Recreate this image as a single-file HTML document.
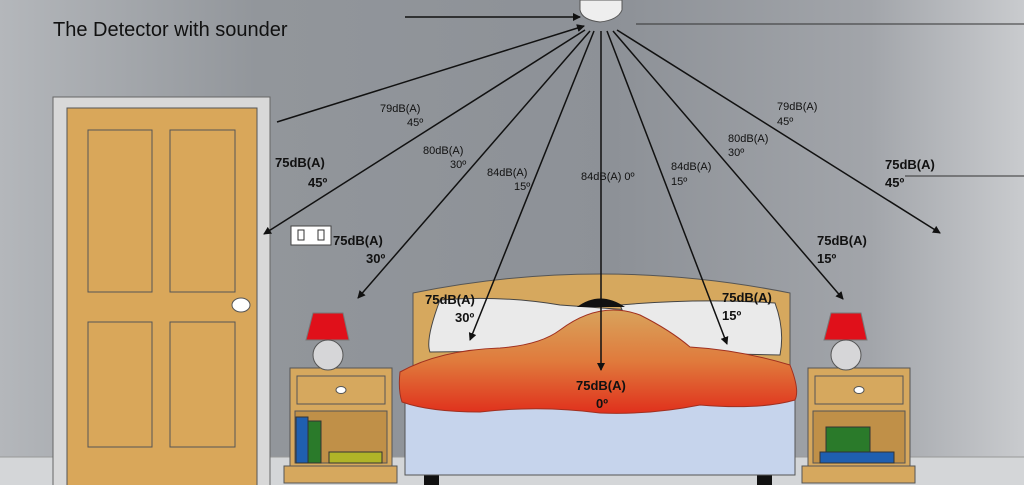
<!DOCTYPE html>
<html><head><meta charset="utf-8"><style>
body{margin:0;width:1024px;height:485px;overflow:hidden}
svg text{font-family:"Liberation Sans",sans-serif;fill:#111}
.b{font-weight:bold;font-size:13px}
.s{font-size:11px}
</style></head><body>
<svg width="1024" height="485" viewBox="0 0 1024 485">
<defs>
<linearGradient id="wall" x1="0" x2="1" y1="0" y2="0">
<stop offset="0" stop-color="#b4b7bb"/><stop offset="0.25" stop-color="#92969b"/>
<stop offset="0.6" stop-color="#8d9197"/><stop offset="0.85" stop-color="#a2a5aa"/>
<stop offset="1" stop-color="#c9cbce"/></linearGradient>
<linearGradient id="cover" x1="0" x2="0" y1="0" y2="1">
<stop offset="0" stop-color="#d8a35c"/><stop offset="0.5" stop-color="#e07a3c"/><stop offset="1" stop-color="#e0301c"/></linearGradient>
<marker id="a" markerWidth="8" markerHeight="8" refX="7" refY="4" orient="auto" markerUnits="userSpaceOnUse"><path d="M0,0 L8,4 L0,8 Z" fill="#111"/></marker>
</defs>
<rect width="1024" height="485" fill="url(#wall)"/>
<rect y="457" width="1024" height="28" fill="#d4d6d8"/>
<line x1="0" y1="457" x2="1024" y2="457" stroke="#999"/>
<text x="53" y="36" font-size="20" style="fill:#111">The Detector with sounder</text>
<!-- detector -->
<path d="M580,0 H622 V10 Q618,20 600,22 Q582,20 580,10 Z" fill="#eee" stroke="#555"/>
<line x1="405" y1="17" x2="580" y2="17" stroke="#111" stroke-width="1.5" marker-end="url(#a)"/>
<line x1="636" y1="24" x2="1024" y2="24" stroke="#333" stroke-width="1"/>
<line x1="905" y1="176" x2="1024" y2="176" stroke="#333" stroke-width="1"/>
<!-- door -->
<rect x="53" y="97" width="217" height="390" fill="#d8d8d8" stroke="#666"/>
<rect x="67" y="108" width="190" height="380" fill="#d9a75a" stroke="#555"/>
<rect x="88" y="130" width="64" height="162" fill="#d9a75a" stroke="#555"/>
<rect x="170" y="130" width="65" height="162" fill="#d9a75a" stroke="#555"/>
<rect x="88" y="322" width="64" height="125" fill="#d9a75a" stroke="#555"/>
<rect x="170" y="322" width="65" height="125" fill="#d9a75a" stroke="#555"/>
<ellipse cx="241" cy="305" rx="9" ry="7" fill="#fff" stroke="#555"/>
<!-- socket -->
<rect x="291" y="226" width="40" height="19" fill="#fff" stroke="#444"/>
<rect x="298" y="230" width="6" height="10" fill="none" stroke="#333"/>
<rect x="318" y="230" width="6" height="10" fill="none" stroke="#333"/>
<!-- nightstands -->
<g id="ns">
<rect x="290" y="368" width="102" height="100" fill="#d6a85e" stroke="#555"/>
<rect x="297" y="376" width="88" height="28" fill="#d6a85e" stroke="#555"/>
<ellipse cx="341" cy="390" rx="5" ry="3.5" fill="#fff" stroke="#555"/>
<rect x="295" y="411" width="92" height="52" fill="#c09048" stroke="#555"/>
<rect x="284" y="466" width="113" height="17" fill="#d6a85e" stroke="#555"/>
<path d="M313,313 H343 L349,340 H306 Z" fill="#e0101a" stroke="#777"/>
<circle cx="328" cy="355" r="15" fill="#d6d6d8" stroke="#555"/>
</g>
<rect x="296" y="417" width="12" height="46" fill="#1f5fb0" stroke="#333"/>
<rect x="308" y="421" width="13" height="42" fill="#2a7a2a" stroke="#333"/>
<rect x="329" y="452" width="53" height="11" fill="#b0b428" stroke="#333"/>
<use href="#ns" x="518"/>
<rect x="826" y="427" width="44" height="25" fill="#2a7a2a" stroke="#333"/>
<rect x="820" y="452" width="74" height="11" fill="#1f5fb0" stroke="#333"/>
<!-- bed -->
<rect x="424" y="473" width="15" height="12" fill="#111"/>
<rect x="757" y="473" width="15" height="12" fill="#111"/>
<rect x="405" y="400" width="390" height="75" fill="#c6d4ec" stroke="#555"/>
<path d="M413,293 Q600,255 790,293 V380 H413 Z" fill="#d6a85e" stroke="#555"/>
<path d="M440,300 Q500,295 560,305 L630,310 L620,350 L430,352 Q425,340 440,300 Z" fill="#eaeaea" stroke="#444"/>
<path d="M620,305 Q700,298 775,303 Q785,330 780,355 L640,352 Z" fill="#eaeaea" stroke="#444"/>
<path d="M577,307 Q600,290 625,307 Z" fill="#111"/>
<path d="M400,372 Q440,350 500,348 Q540,345 560,330 Q600,300 640,315 Q670,330 690,347 Q740,350 790,365 Q800,390 795,400 Q760,410 700,405 Q650,415 600,413 Q540,405 480,412 Q430,412 402,402 Q398,390 400,372 Z" fill="url(#cover)" stroke="#a03020"/>
<!-- lines -->
<g stroke="#111" stroke-width="1.5" fill="none" marker-end="url(#a)">
<path d="M277,122 L584,26"/>
<path d="M585,30 L264,234"/>
<path d="M590,31 L358,298"/>
<path d="M594,31 L470,340"/>
<path d="M601,31 L601,370"/>
<path d="M607,31 L727,344"/>
<path d="M613,31 L843,299"/>
<path d="M617,30 L940,233"/>
</g>
<!-- labels -->
<text class="s" x="380" y="112">79dB(A)</text><text class="s" x="407" y="126">45º</text>
<text class="s" x="423" y="154">80dB(A)</text><text class="s" x="450" y="168">30º</text>
<text class="s" x="487" y="176">84dB(A)</text><text class="s" x="514" y="190">15º</text>
<text class="s" x="581" y="180">84dB(A) 0º</text>
<text class="s" x="671" y="170">84dB(A)</text><text class="s" x="671" y="185">15º</text>
<text class="s" x="728" y="142">80dB(A)</text><text class="s" x="728" y="156">30º</text>
<text class="s" x="777" y="110">79dB(A)</text><text class="s" x="777" y="125">45º</text>
<text class="b" x="275" y="167">75dB(A)</text><text class="b" x="308" y="187">45º</text>
<text class="b" x="333" y="245">75dB(A)</text><text class="b" x="366" y="263">30º</text>
<text class="b" x="425" y="304">75dB(A)</text><text class="b" x="455" y="322">30º</text>
<text class="b" x="722" y="302">75dB(A)</text><text class="b" x="722" y="320">15º</text>
<text class="b" x="576" y="390">75dB(A)</text><text class="b" x="596" y="408">0º</text>
<text class="b" x="817" y="245">75dB(A)</text><text class="b" x="817" y="263">15º</text>
<text class="b" x="885" y="169">75dB(A)</text><text class="b" x="885" y="187">45º</text>
</svg>
</body></html>
